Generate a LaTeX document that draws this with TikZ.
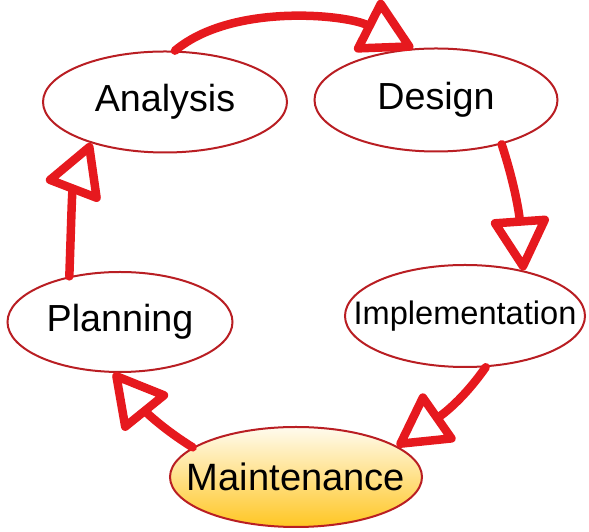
\documentclass[tikz,border=0pt]{standalone}
\usepackage{fontspec}
\setmainfont{Liberation Sans}
\usetikzlibrary{shapes.geometric,arrows.meta}
\definecolor{arrred}{RGB}{230,25,30}
\definecolor{edgered}{RGB}{185,30,35}
\definecolor{mtop}{RGB}{255,251,238}
\definecolor{mmid}{RGB}{255,236,175}
\definecolor{mbot}{RGB}{255,198,35}
\begin{document}
\begin{tikzpicture}[x=1pt,y=1pt,
  stage/.style={ellipse, draw=edgered, line width=2pt, fill=white, inner sep=0pt,
    font=\fontsize{37.7}{40}\selectfont},
  flow/.style={draw=arrred, line width=8.5pt, line cap=round,
    -{Triangle[length=58pt,width=62pt,fill=white,round]}}]
\useasboundingbox (0,0) rectangle (589,532);
\node[stage, minimum width=244pt, minimum height=101pt] (A) at (165,430) {\makebox[0pt]{Analysis}};
\node[stage, minimum width=243pt, minimum height=103pt] (D) at (436,432) {\makebox[0pt]{Design}};
\node[stage, minimum width=225pt, minimum height=100pt] (P) at (120,210) {\makebox[0pt]{Planning}};
\node[stage, minimum width=240pt, minimum height=102pt, font=\fontsize{32.6}{35}\selectfont] (I) at (465,216) {\makebox[0pt]{Implementation}};
\node[stage, minimum width=252pt, minimum height=100pt, top color=mtop, middle color=mmid, bottom color=mbot, font=\fontsize{38.1}{40}\selectfont] (M) at (296,55) {\makebox[0pt]{Maintenance}};
\draw[flow] (A.79) to[out=40,in=153,looseness=0.8] (D.114);
\draw[flow] (D.-34) to[out=-72,in=94] (I.38);
\draw[flow] (I.-68) to[out=-125,in=35] (M.17);
\draw[flow] (M.164) to[out=148,in=-51] (P.-97);
\draw[flow] (P.138) to[out=88,in=-111] (A.209);
\end{tikzpicture}
\end{document}
